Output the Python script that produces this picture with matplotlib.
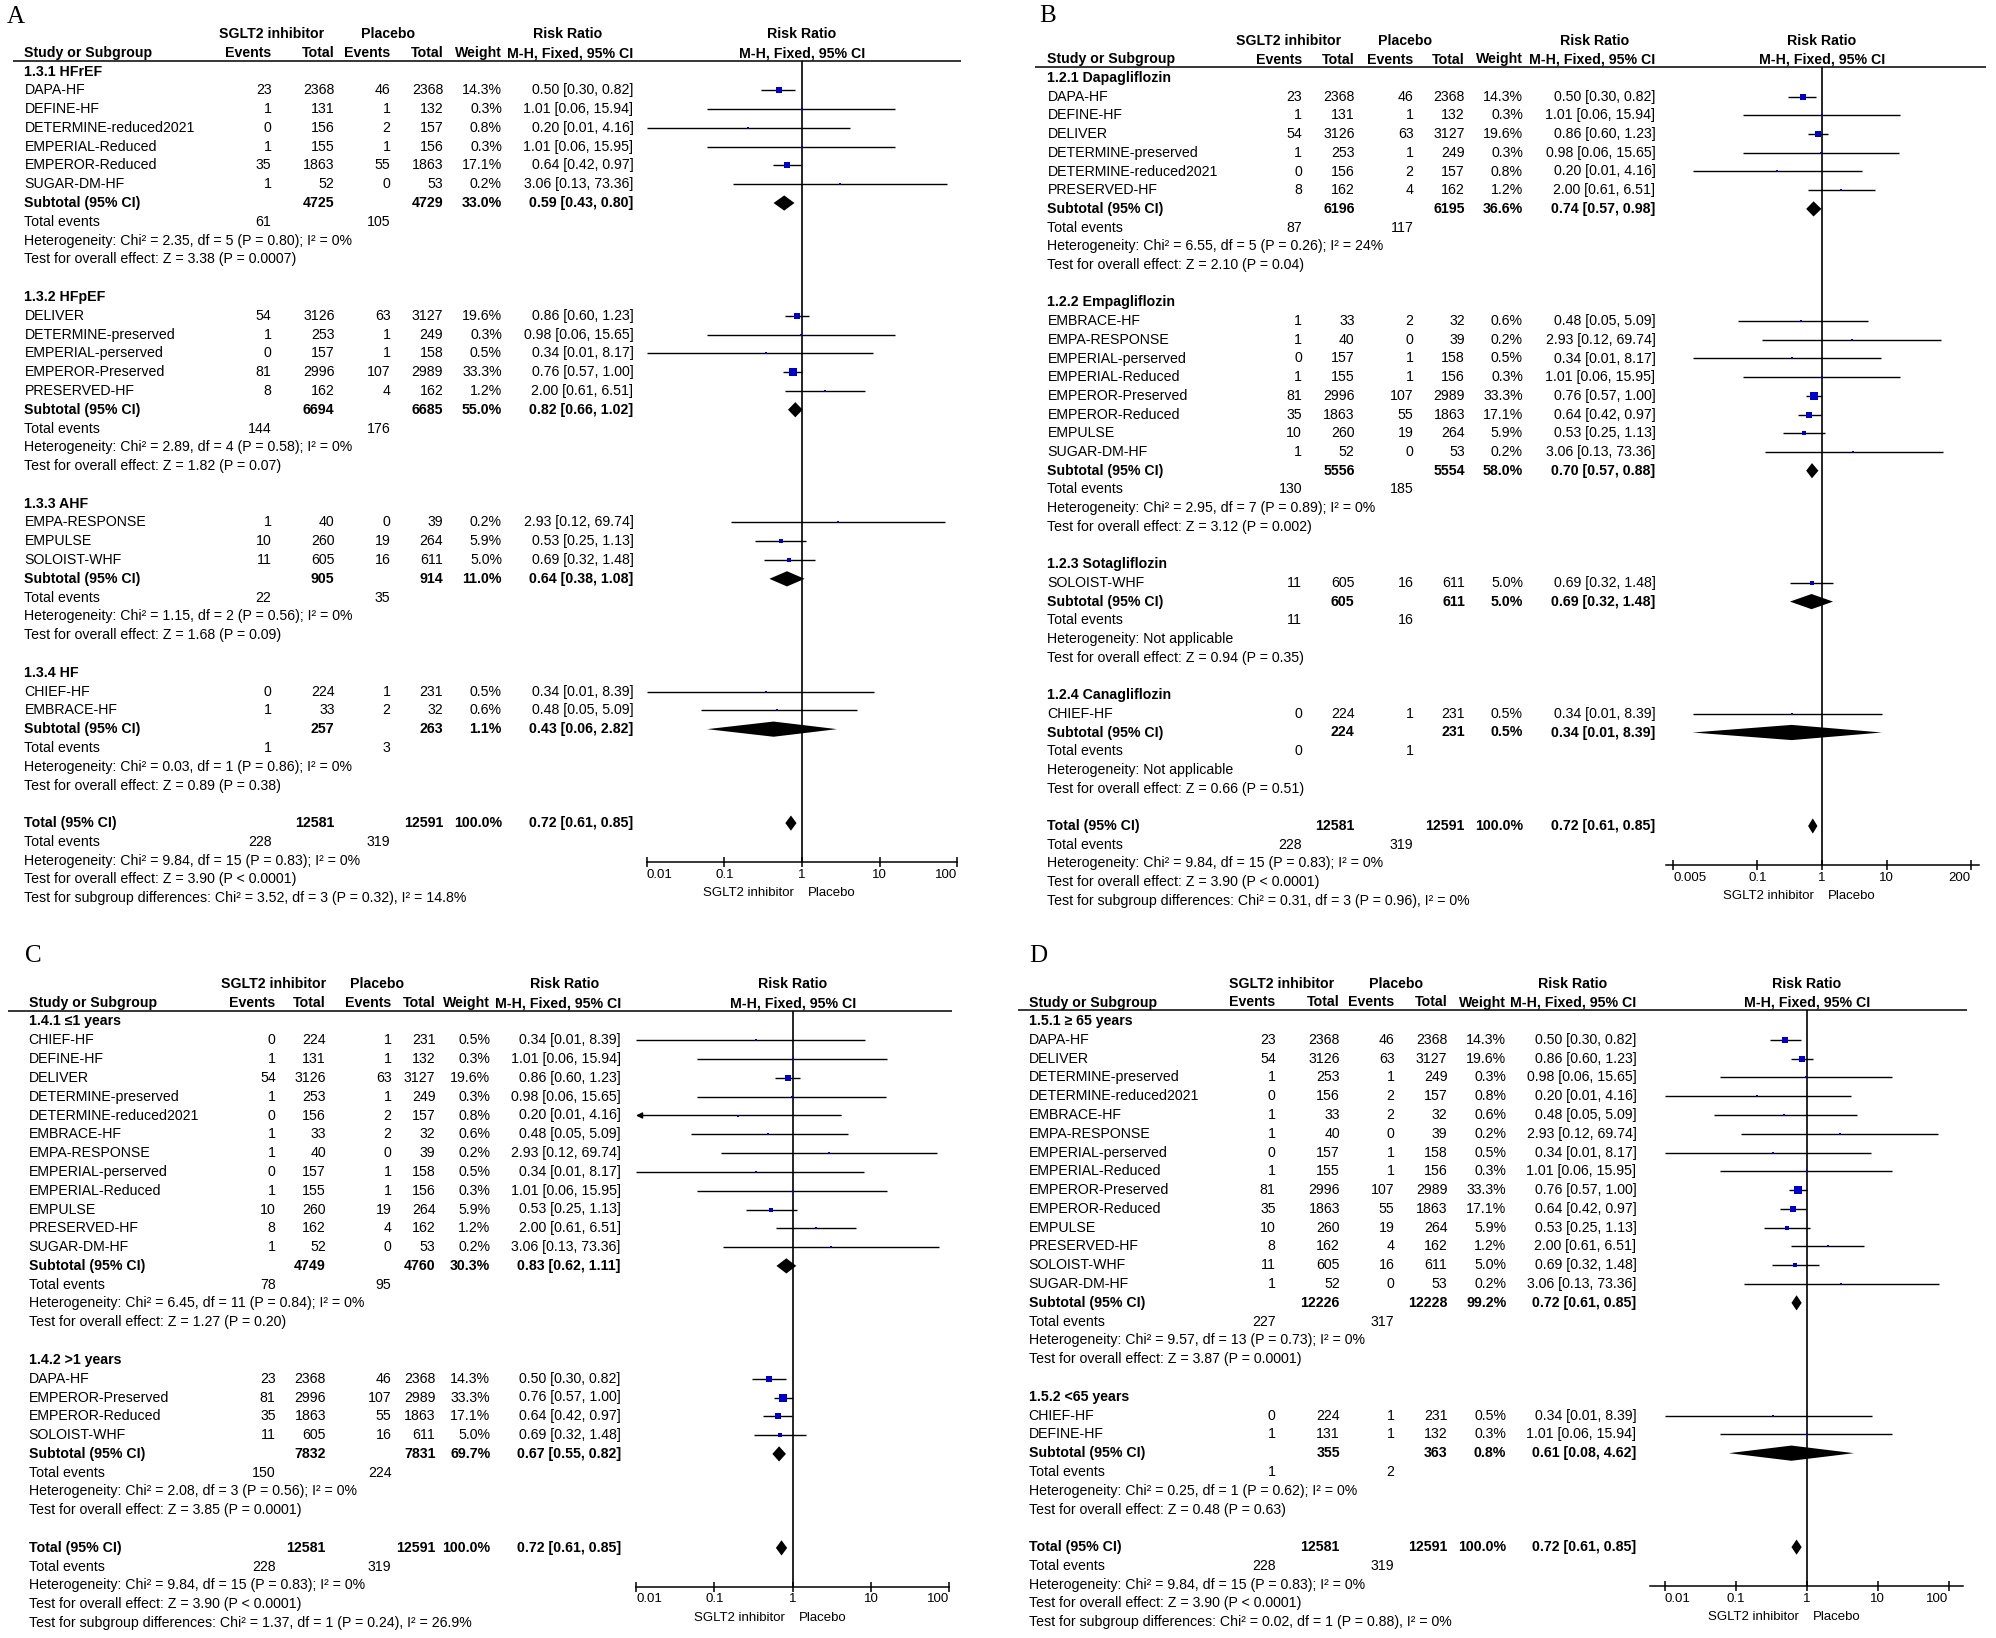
import matplotlib
matplotlib.use("Agg")
import matplotlib.pyplot as plt
from matplotlib import font_manager
from matplotlib.ticker import NullLocator
import numpy as np

# ------------------------------------------------------------------ data
study_names = ["DAPA-HF", "DEFINE-HF", "DELIVER", "DETERMINE-preserved",
               "DETERMINE-reduced2021", "PRESERVED-HF", "EMBRACE-HF", "EMPA-RESPONSE",
               "EMPERIAL-perserved", "EMPERIAL-Reduced", "EMPEROR-Preserved",
               "EMPEROR-Reduced", "EMPULSE", "SUGAR-DM-HF", "SOLOIST-WHF", "CHIEF-HF"]
ev_sglt2 = [23, 1, 54, 1, 0, 8, 1, 1, 0, 1, 81, 35, 10, 1, 11, 0]
n_sglt2 = [2368, 131, 3126, 253, 156, 162, 33, 40, 157, 155, 2996, 1863, 260, 52, 605, 224]
ev_plac = [46, 1, 63, 1, 2, 4, 2, 0, 1, 1, 107, 55, 19, 0, 16, 1]
n_plac = [2368, 132, 3127, 249, 157, 162, 32, 39, 158, 156, 2989, 1863, 264, 53, 611, 231]
weight_pct = [14.3, 0.3, 19.6, 0.3, 0.8, 1.2, 0.6, 0.2, 0.5, 0.3, 33.3, 17.1, 5.9, 0.2, 5.0, 0.5]
rr = [0.50, 1.01, 0.86, 0.98, 0.20, 2.00, 0.48, 2.93, 0.34, 1.01, 0.76, 0.64, 0.53, 3.06, 0.69, 0.34]
ci_lo = [0.30, 0.06, 0.60, 0.06, 0.01, 0.61, 0.05, 0.12, 0.01, 0.06, 0.57, 0.42, 0.25, 0.13, 0.32, 0.01]
ci_hi = [0.82, 15.94, 1.23, 15.65, 4.16, 6.51, 5.09, 69.74, 8.17, 15.95, 1.00, 0.97, 1.13, 73.36, 1.48, 8.39]

# overall totals (identical in the four panels)
tot_n = [12581, 12591]
tot_ev = [228, 319]
tot_w = 100.0
tot_rr = [0.72, 0.61, 0.85]
tot_het = [9.84, 15, "0.83", "0%"]
tot_z = [3.90, "< 0.0001"]

# Panel A: subgroups by HF type
A_titles = ["1.3.1 HFrEF", "1.3.2 HFpEF", "1.3.3 AHF", "1.3.4 HF"]
A_members = [["DAPA-HF", "DEFINE-HF", "DETERMINE-reduced2021", "EMPERIAL-Reduced", "EMPEROR-Reduced", "SUGAR-DM-HF"],
             ["DELIVER", "DETERMINE-preserved", "EMPERIAL-perserved", "EMPEROR-Preserved", "PRESERVED-HF"],
             ["EMPA-RESPONSE", "EMPULSE", "SOLOIST-WHF"],
             ["CHIEF-HF", "EMBRACE-HF"]]
A_sub_n1 = [4725, 6694, 905, 257]
A_sub_n2 = [4729, 6685, 914, 263]
A_sub_e1 = [61, 144, 22, 1]
A_sub_e2 = [105, 176, 35, 3]
A_sub_w = [33.0, 55.0, 11.0, 1.1]
A_sub_rr = [0.59, 0.82, 0.64, 0.43]
A_sub_lo = [0.43, 0.66, 0.38, 0.06]
A_sub_hi = [0.80, 1.02, 1.08, 2.82]
A_chi = [2.35, 2.89, 1.15, 0.03]
A_df = [5, 4, 2, 1]
A_phet = ["0.80", "0.58", "0.56", "0.86"]
A_i2 = ["0%", "0%", "0%", "0%"]
A_z = [3.38, 1.82, 1.68, 0.89]
A_pz = ["0.0007", "0.07", "0.09", "0.38"]
A_diff = [3.52, 3, "0.32", "14.8%"]

# Panel B: subgroups by drug
B_titles = ["1.2.1 Dapagliflozin", "1.2.2 Empagliflozin", "1.2.3 Sotagliflozin", "1.2.4 Canagliflozin"]
B_members = [["DAPA-HF", "DEFINE-HF", "DELIVER", "DETERMINE-preserved", "DETERMINE-reduced2021", "PRESERVED-HF"],
             ["EMBRACE-HF", "EMPA-RESPONSE", "EMPERIAL-perserved", "EMPERIAL-Reduced", "EMPEROR-Preserved",
              "EMPEROR-Reduced", "EMPULSE", "SUGAR-DM-HF"],
             ["SOLOIST-WHF"],
             ["CHIEF-HF"]]
B_sub_n1 = [6196, 5556, 605, 224]
B_sub_n2 = [6195, 5554, 611, 231]
B_sub_e1 = [87, 130, 11, 0]
B_sub_e2 = [117, 185, 16, 1]
B_sub_w = [36.6, 58.0, 5.0, 0.5]
B_sub_rr = [0.74, 0.70, 0.69, 0.34]
B_sub_lo = [0.57, 0.57, 0.32, 0.01]
B_sub_hi = [0.98, 0.88, 1.48, 8.39]
B_chi = [6.55, 2.95, None, None]
B_df = [5, 7, None, None]
B_phet = ["0.26", "0.89", None, None]
B_i2 = ["24%", "0%", None, None]
B_z = [2.10, 3.12, 0.94, 0.66]
B_pz = ["0.04", "0.002", "0.35", "0.51"]
B_diff = [0.31, 3, "0.96", "0%"]

# Panel C: subgroups by follow-up
C_titles = ["1.4.1 \u22641 years", "1.4.2 >1 years"]
C_members = [["CHIEF-HF", "DEFINE-HF", "DELIVER", "DETERMINE-preserved", "DETERMINE-reduced2021", "EMBRACE-HF",
              "EMPA-RESPONSE", "EMPERIAL-perserved", "EMPERIAL-Reduced", "EMPULSE", "PRESERVED-HF", "SUGAR-DM-HF"],
             ["DAPA-HF", "EMPEROR-Preserved", "EMPEROR-Reduced", "SOLOIST-WHF"]]
C_sub_n1 = [4749, 7832]
C_sub_n2 = [4760, 7831]
C_sub_e1 = [78, 150]
C_sub_e2 = [95, 224]
C_sub_w = [30.3, 69.7]
C_sub_rr = [0.83, 0.67]
C_sub_lo = [0.62, 0.55]
C_sub_hi = [1.11, 0.82]
C_chi = [6.45, 2.08]
C_df = [11, 3]
C_phet = ["0.84", "0.56"]
C_i2 = ["0%", "0%"]
C_z = [1.27, 3.85]
C_pz = ["0.20", "0.0001"]
C_diff = [1.37, 1, "0.24", "26.9%"]
C_arrows = ["DETERMINE-reduced2021"]

# Panel D: subgroups by age
D_titles = ["1.5.1 \u2265 65 years", "1.5.2 <65 years"]
D_members = [["DAPA-HF", "DELIVER", "DETERMINE-preserved", "DETERMINE-reduced2021", "EMBRACE-HF", "EMPA-RESPONSE",
              "EMPERIAL-perserved", "EMPERIAL-Reduced", "EMPEROR-Preserved", "EMPEROR-Reduced", "EMPULSE",
              "PRESERVED-HF", "SOLOIST-WHF", "SUGAR-DM-HF"],
             ["CHIEF-HF", "DEFINE-HF"]]
D_sub_n1 = [12226, 355]
D_sub_n2 = [12228, 363]
D_sub_e1 = [227, 1]
D_sub_e2 = [317, 2]
D_sub_w = [99.2, 0.8]
D_sub_rr = [0.72, 0.61]
D_sub_lo = [0.61, 0.08]
D_sub_hi = [0.85, 4.62]
D_chi = [9.57, 0.25]
D_df = [13, 1]
D_phet = ["0.73", "0.62"]
D_i2 = ["0%", "0%"]
D_z = [3.87, 0.48]
D_pz = ["0.0001", "0.63"]
D_diff = [0.02, 1, "0.88", "0%"]

# ------------------------------------------------------------------ style / layout
W, H = 1996, 1638
names = {f.name for f in font_manager.fontManager.ttflist}
if "Liberation Sans Narrow" in names:
    MAIN, FS = "Liberation Sans Narrow", 12.2
else:
    MAIN, FS = "Liberation Sans", 10.2
FAM = [MAIN, "DejaVu Sans"]
AXFAM = ["Liberation Sans", "DejaVu Sans"]
AXFS = 9.5
BLUE = "#0000CD"

LAYOUT = {
    "A": dict(letter=(7, 17), sx=24.4, cols=[271.5, 334.6, 390.6, 443.2, 502, 633.4],
              h1=[271.5, 387.6, 567.3], row0=71.5, sp=18.79, hl=(12.6, 961), X1=802, dec=77.6,
              axx=(646.8, 957.2), ticks=[0.01, 0.1, 1, 10, 100], tl=["0.01", "0.1", "1", "10", "100"]),
    "B": dict(letter=(1039, 16), sx=1047.4, cols=[1302, 1354.6, 1413.5, 1465, 1523, 1655.5],
              h1=[1289, 1405, 1594.5], row0=78, sp=18.7, hl=(1034.7, 1986), X1=1822, dec=64.7,
              axx=(1666, 1979), ticks=[0.005, 0.1, 1, 10, 200], tl=["0.005", "0.1", "1", "10", "200"]),
    "C": dict(letter=(25, 956), sx=28.6, cols=[275.7, 326, 391.4, 435.5, 490.3, 620.8],
              h1=[273.6, 376.7, 564.8], row0=1021.5, sp=18.8, hl=(7.6, 951.7), X1=792.7, dec=78.3,
              axx=(636, 949.3), ticks=[0.01, 0.1, 1, 10, 100], tl=["0.01", "0.1", "1", "10", "100"]),
    "D": dict(letter=(1029, 956), sx=1028.6, cols=[1275.7, 1340, 1394.4, 1447.4, 1506.3, 1636.4],
              h1=[1282, 1395.6, 1572.4], row0=1021, sp=18.79, hl=(1018, 1967), X1=1806.7, dec=71,
              axx=(1650, 1963), ticks=[0.01, 0.1, 1, 10, 100], tl=["0.01", "0.1", "1", "10", "100"]),
}

fig = plt.figure(figsize=(W / 100, H / 100), dpi=100)
ov = fig.add_axes([0, 0, 1, 1])
ov.set_xlim(0, W)
ov.set_ylim(H, 0)
ov.axis("off")


def T(x, y, s, ha="left", bold=False, fs=None):
    ov.text(x, y, s, ha=ha, va="center", fontsize=fs or FS,
            fontweight="bold" if bold else "normal", family=FAM, color="black")


def rrtxt(r, lo, hi):
    return f"{r:.2f} [{lo:.2f}, {hi:.2f}]"


def draw_panel(key, titles, members, sn1, sn2, se1, se2, sw, srr, slo, shi,
               chi, df, phet, i2, z, pz, diff, arrows=()):
    L = LAYOUT[key]
    row0, sp, cols, sx = L["row0"], L["sp"], L["cols"], L["sx"]

    def ypx(r):
        return row0 + r * sp

    # letter
    ov.text(L["letter"][0], L["letter"][1], key, ha="left", va="center", fontsize=18,
            family=["Liberation Serif", "DejaVu Serif"])
    # headers
    y1, y2 = row0 - 37, row0 - 18.5
    T(L["h1"][0], y1, "SGLT2 inhibitor", ha="center", bold=True)
    T(L["h1"][1], y1, "Placebo", ha="center", bold=True)
    T(L["h1"][2], y1, "Risk Ratio", ha="center", bold=True)
    T(L["X1"], y1, "Risk Ratio", ha="center", bold=True)
    T(sx, y2, "Study or Subgroup", bold=True)
    for c, s in zip(cols, ["Events", "Total", "Events", "Total", "Weight", "M-H, Fixed, 95% CI"]):
        T(c, y2, s, ha="right", bold=True)
    T(L["X1"], y2, "M-H, Fixed, 95% CI", ha="center", bold=True)
    hdr_px = row0 - 11
    ov.plot(L["hl"], [hdr_px, hdr_px], color="black", lw=1.1, solid_capstyle="butt")

    r = 0
    study_rows, sub_rows = [], []
    for g in range(len(titles)):
        T(sx, ypx(r), titles[g], bold=True)
        r += 1
        for nm in members[g]:
            i = study_names.index(nm)
            y = ypx(r)
            T(sx, y, nm)
            T(cols[0], y, str(ev_sglt2[i]), ha="right")
            T(cols[1], y, str(n_sglt2[i]), ha="right")
            T(cols[2], y, str(ev_plac[i]), ha="right")
            T(cols[3], y, str(n_plac[i]), ha="right")
            T(cols[4], y, f"{weight_pct[i]:.1f}%", ha="right")
            T(cols[5], y, rrtxt(rr[i], ci_lo[i], ci_hi[i]), ha="right")
            study_rows.append((r, i, nm in arrows))
            r += 1
        y = ypx(r)
        T(sx, y, "Subtotal (95% CI)", bold=True)
        T(cols[1], y, str(sn1[g]), ha="right", bold=True)
        T(cols[3], y, str(sn2[g]), ha="right", bold=True)
        T(cols[4], y, f"{sw[g]:.1f}%", ha="right", bold=True)
        T(cols[5], y, rrtxt(srr[g], slo[g], shi[g]), ha="right", bold=True)
        sub_rows.append((r, srr[g], slo[g], shi[g]))
        r += 1
        y = ypx(r)
        T(sx, y, "Total events")
        T(cols[0], y, str(se1[g]), ha="right")
        T(cols[2], y, str(se2[g]), ha="right")
        r += 1
        if chi[g] is None:
            T(sx, ypx(r), "Heterogeneity: Not applicable")
        else:
            T(sx, ypx(r), f"Heterogeneity: Chi\u00b2 = {chi[g]:.2f}, df = {df[g]} (P = {phet[g]}); I\u00b2 = {i2[g]}")
        r += 1
        T(sx, ypx(r), f"Test for overall effect: Z = {z[g]:.2f} (P = {pz[g]})")
        r += 2
    # overall
    y = ypx(r)
    T(sx, y, "Total (95% CI)", bold=True)
    T(cols[1], y, str(tot_n[0]), ha="right", bold=True)
    T(cols[3], y, str(tot_n[1]), ha="right", bold=True)
    T(cols[4], y, f"{tot_w:.1f}%", ha="right", bold=True)
    T(cols[5], y, rrtxt(*tot_rr), ha="right", bold=True)
    sub_rows.append((r, tot_rr[0], tot_rr[1], tot_rr[2]))
    total_row = r
    T(sx, ypx(r + 1), "Total events")
    T(cols[0], ypx(r + 1), str(tot_ev[0]), ha="right")
    T(cols[2], ypx(r + 1), str(tot_ev[1]), ha="right")
    T(sx, ypx(r + 2), f"Heterogeneity: Chi\u00b2 = {tot_het[0]:.2f}, df = {tot_het[1]} (P = {tot_het[2]}); I\u00b2 = {tot_het[3]}")
    T(sx, ypx(r + 3), f"Test for overall effect: Z = {tot_z[0]:.2f} (P {tot_z[1]})")
    T(sx, ypx(r + 4), f"Test for subgroup differences: Chi\u00b2 = {diff[0]:.2f}, df = {diff[1]} (P = {diff[2]}), I\u00b2 = {diff[3]}")

    # forest axes
    axis_px = ypx(total_row) + 39
    x0, x1 = L["axx"]
    ax = fig.add_axes([x0 / W, 1 - axis_px / H, (x1 - x0) / W, (axis_px - hdr_px) / H])
    ax.patch.set_alpha(0)
    ax.set_xscale("log")
    ax.set_xlim(10 ** ((x0 - L["X1"]) / L["dec"]), 10 ** ((x1 - L["X1"]) / L["dec"]))
    ax.set_ylim((axis_px - row0) / sp, (hdr_px - row0) / sp)
    for s in ["top", "right", "left"]:
        ax.spines[s].set_visible(False)
    ax.spines["bottom"].set_linewidth(1.1)
    ax.set_yticks([])
    ax.xaxis.set_minor_locator(NullLocator())
    ax.set_xticks(L["ticks"])
    ax.set_xticklabels(L["tl"], fontsize=AXFS, family=AXFAM)
    labs = ax.get_xticklabels()
    labs[0].set_horizontalalignment("left")
    labs[-1].set_horizontalalignment("right")
    ax.tick_params(axis="x", direction="inout", length=6.5, width=1.1, pad=1.5)
    ax.axvline(1, color="black", lw=1.2, zorder=1)

    xmin = ax.get_xlim()[0]
    for (rw, i, arr) in study_rows:
        if arr:
            ax.annotate("", xy=(xmin, rw), xytext=(ci_hi[i], rw),
                        arrowprops=dict(arrowstyle="-|>", lw=1.0, color="black",
                                        mutation_scale=9, shrinkA=0, shrinkB=0),
                        annotation_clip=False)
        else:
            ax.hlines(rw, ci_lo[i], ci_hi[i], color="black", lw=1.0, zorder=2, clip_on=False)
        side_px = max(1.9, 1.5 * np.sqrt(weight_pct[i]))
        ax.scatter([rr[i]], [rw], s=(side_px * 0.72) ** 2, marker="s", color=BLUE,
                   linewidths=0, zorder=3, clip_on=False)
    hh = 7.6 / sp
    for (rw, m, lo, hi) in sub_rows:
        ax.fill([lo, m, hi, m], [rw, rw - hh, rw, rw + hh], color="black", lw=0, zorder=3, clip_on=False)

    ax.annotate("SGLT2 inhibitor", xy=(1, 0), xycoords=("data", "axes fraction"),
                xytext=(-5.5, -22.5), textcoords="offset points", ha="right", va="center",
                fontsize=AXFS, family=AXFAM)
    ax.annotate("Placebo", xy=(1, 0), xycoords=("data", "axes fraction"),
                xytext=(4.3, -22.5), textcoords="offset points", ha="left", va="center",
                fontsize=AXFS, family=AXFAM)


draw_panel("A", A_titles, A_members, A_sub_n1, A_sub_n2, A_sub_e1, A_sub_e2, A_sub_w,
           A_sub_rr, A_sub_lo, A_sub_hi, A_chi, A_df, A_phet, A_i2, A_z, A_pz, A_diff)
draw_panel("B", B_titles, B_members, B_sub_n1, B_sub_n2, B_sub_e1, B_sub_e2, B_sub_w,
           B_sub_rr, B_sub_lo, B_sub_hi, B_chi, B_df, B_phet, B_i2, B_z, B_pz, B_diff)
draw_panel("C", C_titles, C_members, C_sub_n1, C_sub_n2, C_sub_e1, C_sub_e2, C_sub_w,
           C_sub_rr, C_sub_lo, C_sub_hi, C_chi, C_df, C_phet, C_i2, C_z, C_pz, C_diff, C_arrows)
draw_panel("D", D_titles, D_members, D_sub_n1, D_sub_n2, D_sub_e1, D_sub_e2, D_sub_w,
           D_sub_rr, D_sub_lo, D_sub_hi, D_chi, D_df, D_phet, D_i2, D_z, D_pz, D_diff)

fig.savefig("out.png", dpi=100, facecolor="white")
